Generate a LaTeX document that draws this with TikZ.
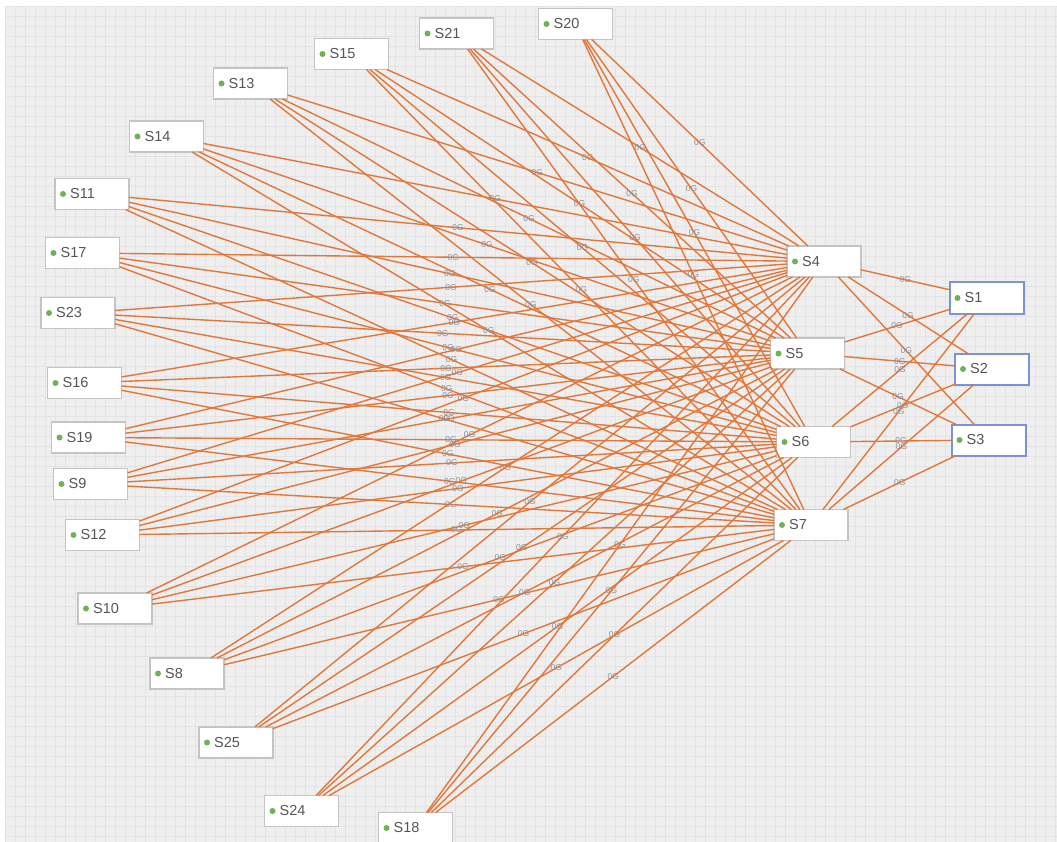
\documentclass[tikz,border=0pt]{standalone}
\usepackage{fontspec}
\setmainfont{Liberation Sans}
\definecolor{bgc}{HTML}{EFEFEF}
\definecolor{gridc}{HTML}{E3E3E3}
\definecolor{edgec}{HTML}{E3773A}
\definecolor{boxc}{HTML}{C4C4C4}
\definecolor{bluec}{HTML}{7B92D3}
\definecolor{dotc}{HTML}{6DB356}
\definecolor{txtc}{HTML}{555555}
\definecolor{lblc}{HTML}{8E8E96}
\newcommand\mkbox[5]{%
  \node[#5] (#1) at (#2,#3) {};
  \fill[dotc] ([xshift=8pt]#1.west) circle (3pt);
  \node[txt] at ([xshift=15pt]#1.west) {#4};}
\begin{document}
\begin{tikzpicture}[x=1pt,y=-1pt,
  box/.style={draw=boxc,line width=1.8pt,fill=white,minimum width=74pt,minimum height=31pt,inner sep=0pt,outer sep=0pt},
  bbox/.style={box,draw=bluec,line width=2pt},
  txt/.style={anchor=west,text=txtc,font=\fontsize{14.5}{15}\selectfont,inner sep=0pt},
  edge/.style={draw=edgec,line width=1.4pt},
  lbl/.style={text=lblc,font=\fontsize{8.5}{8.5}\selectfont,inner sep=0pt}]
\useasboundingbox (0,0) rectangle (1057,842);
\fill[white] (0,0) rectangle (1057,842);
\fill[bgc] (5,6) rectangle (1057,842);
\foreach \gx in {5,15,...,1055} \draw[gridc,line width=0.5pt] (\gx,6) -- (\gx,842);
\foreach \gy in {6,16,...,836} \draw[gridc,line width=0.5pt] (5,\gy) -- (1057,\gy);
% nodes
\mkbox{s20}{575.5}{24}{S20}{box}
\mkbox{s21}{456.5}{33.5}{S21}{box}
\mkbox{s15}{351.5}{54}{S15}{box}
\mkbox{s13}{250.5}{83.5}{S13}{box}
\mkbox{s14}{166.5}{136.5}{S14}{box}
\mkbox{s11}{92}{194}{S11}{box}
\mkbox{s17}{82.5}{253}{S17}{box}
\mkbox{s23}{78}{313}{S23}{box}
\mkbox{s16}{84.5}{383}{S16}{box}
\mkbox{s19}{88.5}{437.5}{S19}{box}
\mkbox{s9}{90.5}{484}{S9}{box}
\mkbox{s12}{102.5}{535}{S12}{box}
\mkbox{s10}{115}{608.5}{S10}{box}
\mkbox{s8}{187}{673.5}{S8}{box}
\mkbox{s25}{236}{742.5}{S25}{box}
\mkbox{s24}{301.5}{811}{S24}{box}
\mkbox{s18}{415.5}{828}{S18}{box}
\mkbox{s4}{824}{261.5}{S4}{box}
\mkbox{s5}{807.5}{353.5}{S5}{box}
\mkbox{s6}{813.5}{442}{S6}{box}
\mkbox{s7}{811}{525}{S7}{box}
\mkbox{s1}{986.5}{298}{S1}{bbox}
\mkbox{s2}{992}{369}{S2}{bbox}
\mkbox{s3}{988.5}{440}{S3}{bbox}
% edges
\foreach \a in {s8,s9,s10,s11,s12,s13,s14,s15,s16,s17,s18,s19,s20,s21,s23,s24,s25}
  \foreach \b in {s4,s5,s6,s7}
    \draw[edge] (\a) -- node[lbl]{0G} (\b);
\foreach \a in {s4,s5,s6,s7}
  \foreach \b in {s1,s2,s3}
    \draw[edge] (\a) -- node[lbl]{0G} (\b);
\end{tikzpicture}
\end{document}
